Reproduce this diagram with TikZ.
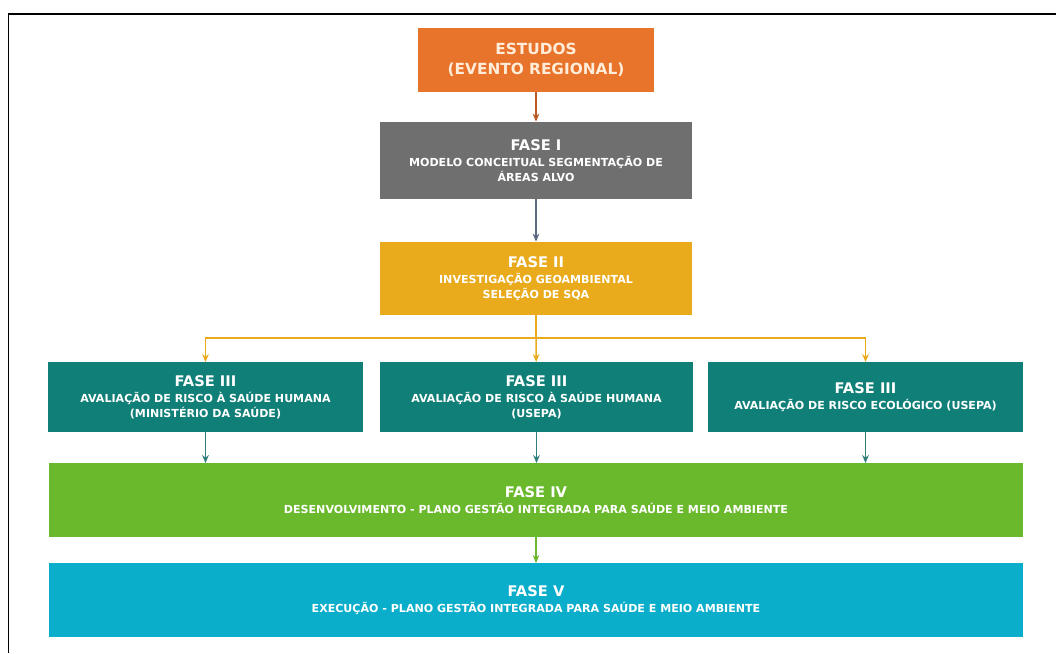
\documentclass[tikz,border=0pt]{standalone}
\usepackage{fontspec}
\setmainfont{DejaVu Sans}
\usetikzlibrary{arrows.meta}
\definecolor{laranja}{HTML}{E8732A}
\definecolor{cinza}{HTML}{6F6F6F}
\definecolor{ouro}{HTML}{E9AA1C}
\definecolor{petroleo}{HTML}{0F7F77}
\definecolor{verde}{HTML}{6AB82C}
\definecolor{ciano}{HTML}{0BAECA}
\definecolor{ardosia}{HTML}{5B6B7F}
\tikzset{
  caixa/.style={rectangle, text=white, font=\fontsize{8.3}{11}\selectfont\bfseries, align=center, inner sep=0pt},
  seta/.style={-{Stealth[length=6pt,width=5pt]}, line width=1.1pt}
}
\newcommand{\fasetit}[1]{\fontsize{11}{14}\selectfont #1\\[1pt]}
\begin{document}
\begin{tikzpicture}[x=0.75pt,y=-0.75pt]
                                \useasboundingbox (0,0) rectangle (1056,653);
                                \draw[line width=1.2pt] (8.5,653) -- (8.5,14) -- (1056,14);
                                % caixas
                                \node[caixa, fill=laranja, minimum width=177pt, minimum height=48pt, text=orange!15, font=\fontsize{11.5}{15}\selectfont\bfseries]
                                    (estudos) at (536,60) {ESTUDOS\\(EVENTO REGIONAL)};
                                \node[caixa, fill=cinza, minimum width=234pt, minimum height=58pt]
                                    (fase1) at (536,160.5) {\fasetit{FASE I}MODELO CONCEITUAL SEGMENTAÇÃO DE\\ÁREAS ALVO};
                                \node[caixa, fill=ouro, minimum width=234pt, minimum height=55pt]
                                    (fase2) at (536,278.5) {\fasetit{FASE II}INVESTIGAÇÃO GEOAMBIENTAL\\SELEÇÃO DE SQA};
                                \node[caixa, fill=petroleo, minimum width=236pt, minimum height=52pt]
                                    (fase3a) at (205.5,397) {\fasetit{FASE III}AVALIAÇÃO DE RISCO À SAÚDE HUMANA\\(MINISTÉRIO DA SAÚDE)};
                                \node[caixa, fill=petroleo, minimum width=235pt, minimum height=52pt]
                                    (fase3b) at (536.5,397) {\fasetit{FASE III}AVALIAÇÃO DE RISCO À SAÚDE HUMANA\\(USEPA)};
                                \node[caixa, fill=petroleo, minimum width=236pt, minimum height=52pt]
                                    (fase3c) at (865.5,397) {\fasetit{FASE III}AVALIAÇÃO DE RISCO ECOLÓGICO (USEPA)};
                                \node[caixa, fill=verde, minimum width=730pt, minimum height=55pt]
                                    (fase4) at (536,500) {\fasetit{FASE IV}DESENVOLVIMENTO - PLANO GESTÃO INTEGRADA PARA SAÚDE E MEIO AMBIENTE};
                                \node[caixa, fill=ciano, minimum width=730pt, minimum height=55pt]
                                    (fase5) at (536,600) {\fasetit{FASE V}EXECUÇÃO - PLANO GESTÃO INTEGRADA PARA SAÚDE E MEIO AMBIENTE};
                                % setas
                                \coordinate (ramo) at (536,338);
                                \draw[seta, draw=laranja!80!black] (estudos) -- (fase1);
                                \draw[seta, ardosia] (fase1) -- (fase2);
                                \draw[line width=1.1pt, ouro] (fase2) -- (ramo);
                                \draw[seta, ouro] (ramo) -| (fase3a);
                                \draw[seta, ouro] (ramo) -- (fase3b);
                                \draw[seta, ouro] (ramo) -| (fase3c);
                                \draw[seta, draw=petroleo!70!gray] (fase3a) -- (fase3a |- fase4.north);
                                \draw[seta, draw=petroleo!70!gray] (fase3b) -- (fase3b |- fase4.north);
                                \draw[seta, draw=petroleo!70!gray] (fase3c) -- (fase3c |- fase4.north);
                                \draw[seta, verde] (fase4) -- (fase5);
                            \end{tikzpicture}
\end{document}
